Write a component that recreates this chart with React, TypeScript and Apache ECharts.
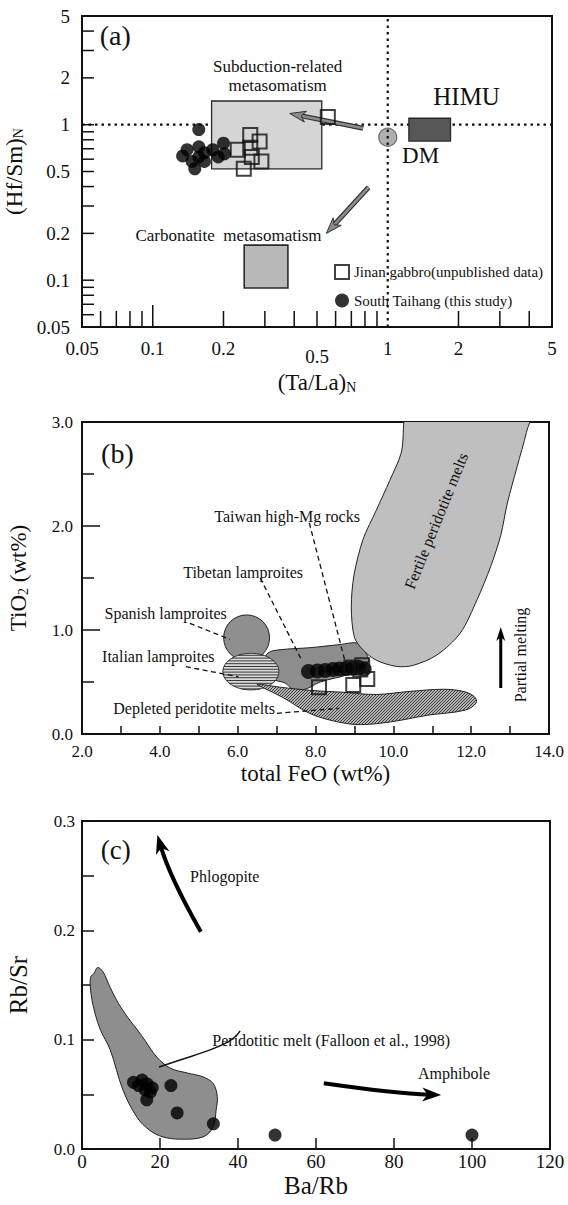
import React, { useEffect, useRef } from "react";
import * as echarts from "echarts";

const FONT = "'Liberation Serif', 'Times New Roman', Times, serif";
const INK = "#111";

// ---------------- Panel (a): (Ta/La)N vs (Hf/Sm)N, log–log ----------------
const A_AXIS_LABELS = [0.05, 0.1, 0.2, 0.5, 1, 2, 5];
const A_X_TICKS = [0.06, 0.07, 0.08, 0.09, 0.2, 0.3, 0.4, 0.5, 0.6, 0.7, 0.8, 0.9, 2, 3, 4];
const A_X_LONG_TICKS = [0.1];
const A_Y_TICKS = [4, 3, 2, 1, 0.9, 0.8, 0.7, 0.6, 0.5, 0.4, 0.3, 0.2, 0.1, 0.09, 0.08, 0.07, 0.06];

const TAIHANG_A: number[][] = [
  [0.157, 0.93], [0.134, 0.63], [0.157, 0.72], [0.157, 0.62], [0.151, 0.52],
  [0.166, 0.58], [0.18, 0.69], [0.2, 0.76], [0.202, 0.65], [0.166, 0.66],
  [0.14, 0.69], [0.147, 0.58], [0.19, 0.62],
];
const JINAN_A: number[][] = [
  [0.26, 0.86], [0.285, 0.78], [0.23, 0.69], [0.26, 0.71], [0.264, 0.62],
  [0.29, 0.58], [0.244, 0.52], [0.556, 1.12],
];
const SUBDUCTION_TA = [0.178, 0.524];
const SUBDUCTION_HF = [0.52, 1.42];
const CARBONATITE_TA = [0.245, 0.376];
const CARBONATITE_HF = [0.089, 0.168];
const HIMU_TA = [1.23, 1.85];
const HIMU_HF = [0.785, 1.1];
const DM_POINT = [[1.0, 0.83]];
const CHONDRITE_RATIO = 1;
const SUBDUCTION_ARROW = [[0.786, 0.948], [0.383, 1.18]];
const CARBONATITE_ARROW = [[0.829, 0.396], [0.548, 0.2]];
const NOTES_A = [
  { text: "(a)", at: [0.0693, 3.77] },
  { text: "Subduction-related", at: [0.34, 2.36] },
  { text: "metasomatism", at: [0.34, 1.774] },
  { text: "HIMU", at: [2.165, 1.51] },
  { text: "DM", at: [1.38, 0.638] },
  { text: "Carbonatite  metasomatism", at: [0.21, 0.195] },
];

// ---------------- Panel (b): total FeO vs TiO2 ----------------
// the fertile field runs past the top of the frame and is clipped there
const FERTILE: number[][] = [
  [10.5, 3.25], [10.2, 2.7], [9.91, 2.44], [9.56, 2.15], [9.22, 1.87], [8.99, 1.53], [8.92, 1.22],
  [9.0, 0.93], [9.22, 0.81], [9.56, 0.71], [10.08, 0.65], [10.51, 0.66], [11.12, 0.76],
  [11.72, 0.97], [12.15, 1.29], [12.5, 1.61], [12.76, 1.91], [12.93, 2.22], [13.18, 2.57],
  [13.42, 2.9], [13.6, 3.25],
];
const TIBETAN: number[][] = [
  [6.78, 0.78], [7.09, 0.81], [7.86, 0.83], [8.63, 0.86], [9.07, 0.875], [9.25, 0.81],
  [9.35, 0.69], [8.89, 0.58], [8.12, 0.5], [7.73, 0.43], [7.42, 0.43], [7.22, 0.49],
  [6.96, 0.52], [6.73, 0.6], [6.68, 0.69],
];
const DEPLETED: number[][] = [
  [6.5, 0.48], [7.09, 0.45], [7.86, 0.42], [8.76, 0.4], [9.56, 0.38], [10.43, 0.41],
  [11.28, 0.43], [11.79, 0.41], [12.08, 0.36], [12.13, 0.3], [11.85, 0.23], [10.87, 0.18],
  [9.99, 0.12], [9.15, 0.09], [8.53, 0.12], [7.84, 0.2], [7.17, 0.35], [6.63, 0.45],
];
const SPANISH_CENTER = [6.23, 0.925];
const SPANISH_RADII = [0.59, 0.22];
const ITALIAN_CENTER = [6.34, 0.6];
const ITALIAN_RADII = [0.72, 0.176];
const TAIHANG_B: number[][] = [
  [7.82, 0.6], [8.05, 0.605], [8.25, 0.61], [8.45, 0.62], [8.62, 0.625],
  [8.8, 0.63], [8.97, 0.635], [9.12, 0.64], [9.25, 0.625],
];
const JINAN_B: number[][] = [
  [8.09, 0.45], [8.97, 0.47], [9.33, 0.53], [9.15, 0.62], [8.92, 0.64], [9.2, 0.66],
];
const LEADERS_B: number[][][] = [
  [[7.84, 2.03], [8.79, 0.654]],
  [[6.58, 1.5], [7.62, 0.728]],
  [[4.77, 1.064], [5.8, 0.91]],
  [[4.67, 0.647], [6.02, 0.55]],
  [[7.01, 0.199], [8.61, 0.247]],
];
const PARTIAL_MELTING_ARROW = [[12.76, 0.442], [12.76, 1.03]];
const NOTES_B = [
  { text: "(b)", at: [2.91, 2.7] },
  { text: "Taiwan high-Mg rocks", at: [7.27, 2.09] },
  { text: "Tibetan lamproites", at: [6.14, 1.555] },
  { text: "Spanish lamproites", at: [4.15, 1.154] },
  { text: "Italian lamproites", at: [3.96, 0.743] },
  { text: "Depleted peridotite melts", at: [4.88, 0.247] },
  { text: "Fertile peridotite melts", at: [11.1, 2.05] },
  { text: "Partial melting", at: [13.28, 0.76] },
];

// ---------------- Panel (c): Ba/Rb vs Rb/Sr ----------------
const PERIDOTITIC: number[][] = [
  [3.0, 0.16], [4.0, 0.166], [5.4, 0.162], [7.2, 0.148], [9.2, 0.134], [11.8, 0.12],
  [14.4, 0.108], [16.2, 0.099], [19.2, 0.084], [22.6, 0.074], [27.0, 0.0695], [31.0, 0.066],
  [33.6, 0.06], [34.7, 0.048], [34.4, 0.036], [33.6, 0.02], [31.0, 0.011], [25.2, 0.009],
  [20.8, 0.011], [17.4, 0.017], [14.1, 0.029], [10.5, 0.054], [7.2, 0.091], [4.6, 0.11],
  [2.8, 0.132], [2.1, 0.15], [2.3, 0.158],
];
const TAIHANG_C: number[][] = [
  [13.2, 0.061], [15.4, 0.063], [16.7, 0.0595], [18.0, 0.056], [16.2, 0.054],
  [16.6, 0.045], [22.8, 0.058], [24.4, 0.033], [33.7, 0.023], [49.5, 0.0128],
  [100.0, 0.0128], [14.5, 0.058], [17.5, 0.052],
];
const PHLOGOPITE_ARROW = [[30.47, 0.1988], [22.5, 0.2486], [19.33, 0.2873]];
const AMPHIBOLE_ARROW = [[62.0, 0.0601], [80.3, 0.0507], [92.1, 0.0494]];
const PERIDOTITIC_LEADER: number[][] = [
  [19.76, 0.075], [25.15, 0.0814], [32.85, 0.0906], [37.47, 0.0979], [39.5, 0.1034], [40.55, 0.108],
];
const NOTES_C = [
  { text: "(c)", at: [8.65, 0.2736] },
  { text: "Phlogopite", at: [36.6, 0.249] },
  { text: "Peridotitic melt (Falloon et al., 1998)", at: [63.9, 0.099] },
  { text: "Amphibole", at: [95.4, 0.0686] },
];

// ---------------- styling helpers ----------------
const NOTE_SIZE: Record<string, number> = {
  "(a)": 28, "(b)": 28, "(c)": 27, HIMU: 25, DM: 23,
  "Subduction-related": 17, metasomatism: 17, "Carbonatite  metasomatism": 17,
};
const NOTE_ROTATION: Record<string, number> = {
  "Fertile peridotite melts": 68,
  "Partial melting": 90,
};
const JINAN = "Jinan gabbro(unpublished data)";
const TAIHANG = "South Taihang (this study)";

function arrowHead(tip: number[], from: number[], len: number, width: number) {
  const dx = tip[0] - from[0];
  const dy = tip[1] - from[1];
  const d = Math.hypot(dx, dy) || 1;
  const ux = dx / d, uy = dy / d;
  const nx = -uy, ny = ux;
  const bx = tip[0] - ux * len, by = tip[1] - uy * len;
  const notch = [tip[0] - ux * len * 0.72, tip[1] - uy * len * 0.72];
  return {
    points: [
      tip,
      [bx + (nx * width) / 2, by + (ny * width) / 2],
      notch,
      [bx - (nx * width) / 2, by - (ny * width) / 2],
    ],
    base: [tip[0] - ux * len * 0.6, tip[1] - uy * len * 0.6],
  };
}

function notesSeries(idx: number, notes: { text: string; at: number[] }[], z: number) {
  return {
    type: "custom",
    coordinateSystem: "cartesian2d",
    xAxisIndex: idx,
    yAxisIndex: idx,
    z,
    silent: true,
    data: notes.map((n) => n.at),
    renderItem: (params: any, api: any) => {
      const n = notes[params.dataIndex];
      const p = api.coord(n.at);
      return {
        type: "text",
        x: p[0],
        y: p[1],
        rotation: ((NOTE_ROTATION[n.text] || 0) * Math.PI) / 180,
        style: {
          text: n.text,
          fontSize: NOTE_SIZE[n.text] || 16,
          fontFamily: FONT,
          fill: INK,
          align: "center",
          verticalAlign: "middle",
        },
      };
    },
  };
}

function regionSeries(idx: number, pts: number[][], style: any, smooth: number, z: number) {
  return {
    type: "custom",
    coordinateSystem: "cartesian2d",
    xAxisIndex: idx,
    yAxisIndex: idx,
    z,
    silent: true,
    clip: true,
    data: [pts[0]],
    renderItem: (_p: any, api: any) => ({
      type: "polygon",
      shape: { points: pts.map((q) => api.coord(q)), smooth },
      style,
    }),
  };
}

function makeStipple() {
  const c = document.createElement("canvas");
  c.width = 3;
  c.height = 3;
  const g = c.getContext("2d");
  if (g) {
    g.fillStyle = "#b4b4b4";
    g.fillRect(0, 0, 3, 3);
    g.fillStyle = "#3c3c3c";
    g.fillRect(0, 2, 1, 1);
    g.fillRect(1, 1, 1, 1);
    g.fillRect(2, 0, 1, 1);
  }
  return c;
}

function labelNum(v: number) {
  return String(+Number(v).toPrecision(3));
}

function buildOption() {
  const tickStyle = { color: INK, width: 1.5 };
  const labelBase = { fontFamily: FONT, color: INK };

  const gridBase = {
    show: true,
    borderColor: INK,
    borderWidth: 2,
    backgroundColor: "transparent",
    containLabel: false,
    outerBoundsMode: "none",
  };

  const aTickItems = [
    ...A_X_TICKS.map((v) => [v, 0.05, 0, 16]),
    ...A_X_LONG_TICKS.map((v) => [v, 0.05, 0, 22]),
    ...A_Y_TICKS.map((v) => [0.05, v, 1, 12]),
  ];

  const boxesA = [
    { ta: SUBDUCTION_TA, hf: SUBDUCTION_HF, fill: "#d5d5d5", lw: 1.3 },
    { ta: CARBONATITE_TA, hf: CARBONATITE_HF, fill: "#b9b9b9", lw: 1.6 },
    { ta: HIMU_TA, hf: HIMU_HF, fill: "#575757", lw: 1.3 },
  ];

  const titleRich = {
    t: { fontFamily: FONT, fontSize: 23, color: INK, verticalAlign: "bottom" },
    s: { fontFamily: FONT, fontSize: 14, color: INK, verticalAlign: "bottom" },
  };

  return {
    animation: false,
    backgroundColor: "#fff",
    textStyle: { fontFamily: FONT },
    legend: {
      show: true,
      left: 329,
      top: 259,
      orient: "vertical",
      itemWidth: 14,
      itemHeight: 14,
      itemGap: 13,
      selectedMode: false,
      textStyle: { fontFamily: FONT, fontSize: 15, color: INK },
      data: [
        { name: JINAN, icon: "rect", itemStyle: { color: "#fff", borderColor: INK, borderWidth: 2 } },
        { name: TAIHANG, icon: "circle", itemStyle: { color: "#000", borderWidth: 0 } },
      ],
    },
    grid: [
      { ...gridBase, left: 82, top: 16, width: 470, height: 311 },
      { ...gridBase, left: 82, top: 422, width: 467, height: 312 },
      { ...gridBase, left: 82, top: 821, width: 468, height: 328 },
    ],
    xAxis: [
      {
        type: "log",
        logBase: 10,
        gridIndex: 0,
        min: 0.05,
        max: 5,
        axisLine: { show: false },
        axisTick: { show: false },
        splitLine: { show: false },
        minorTick: { show: false },
        axisLabel: {
          customValues: A_AXIS_LABELS,
          margin: 12,
          formatter: (v: number) => (labelNum(v) === "0.5" ? "{low|0.5}" : "{n|" + labelNum(v) + "}"),
          rich: {
            n: { ...labelBase, fontSize: 19 },
            low: { ...labelBase, fontSize: 19, padding: [8, 0, 0, 0] },
          },
        },
        name: "{t|(Ta/La)}{s|N}",
        nameLocation: "middle",
        nameGap: 44,
        nameTextStyle: { rich: titleRich },
      },
      {
        type: "value",
        gridIndex: 1,
        min: 2,
        max: 14,
        interval: 2,
        axisLine: { show: false },
        splitLine: { show: false },
        axisTick: { show: true, inside: true, length: 8, lineStyle: tickStyle },
        minorTick: { show: true, splitNumber: 2, length: 8, lineStyle: tickStyle },
        axisLabel: { ...labelBase, fontSize: 17, margin: 9, formatter: (v: number) => v.toFixed(1) },
        name: "total FeO (wt%)",
        nameLocation: "middle",
        nameGap: 28,
        nameTextStyle: { fontFamily: FONT, fontSize: 23, color: INK },
      },
      {
        type: "value",
        gridIndex: 2,
        min: 0,
        max: 120,
        interval: 20,
        axisLine: { show: false },
        splitLine: { show: false },
        axisTick: { show: true, inside: true, length: 11, lineStyle: tickStyle },
        axisLabel: { ...labelBase, fontSize: 19, margin: 3 },
        name: "Ba/Rb",
        nameLocation: "middle",
        nameGap: 24,
        nameTextStyle: { fontFamily: FONT, fontSize: 25, color: INK },
      },
    ],
    yAxis: [
      {
        type: "log",
        logBase: 10,
        gridIndex: 0,
        min: 0.05,
        max: 5,
        axisLine: { show: false },
        axisTick: { show: false },
        splitLine: { show: false },
        minorTick: { show: false },
        axisLabel: {
          ...labelBase,
          fontSize: 19,
          margin: 12,
          customValues: A_AXIS_LABELS,
          formatter: (v: number) => labelNum(v),
        },
        name: "{t|(Hf/Sm)}{s|N}",
        nameLocation: "middle",
        nameGap: 50,
        nameTextStyle: { rich: titleRich },
      },
      {
        type: "value",
        gridIndex: 1,
        min: 0,
        max: 3,
        interval: 1,
        axisLine: { show: false },
        splitLine: { show: false },
        axisTick: { show: true, inside: true, length: 18, lineStyle: tickStyle },
        minorTick: { show: true, splitNumber: 2, length: 12, lineStyle: tickStyle },
        axisLabel: { ...labelBase, fontSize: 17, margin: 9, formatter: (v: number) => v.toFixed(1) },
        name: "{t|TiO}{s|2}{t| (wt%)}",
        nameLocation: "middle",
        nameGap: 52,
        nameTextStyle: { rich: titleRich },
      },
      {
        type: "value",
        gridIndex: 2,
        min: 0,
        max: 0.3,
        interval: 0.1,
        axisLine: { show: false },
        splitLine: { show: false },
        axisTick: { show: true, inside: true, length: 12, lineStyle: tickStyle },
        minorTick: { show: true, splitNumber: 2, length: 12, lineStyle: tickStyle },
        axisLabel: { ...labelBase, fontSize: 17, margin: 7, formatter: (v: number) => v.toFixed(1) },
        name: "Rb/Sr",
        nameLocation: "middle",
        nameGap: 51,
        nameTextStyle: { fontFamily: FONT, fontSize: 25, color: INK },
      },
    ],
    series: [
      // ----- panel (a) -----
      {
        type: "custom",
        name: "ticks-a",
        coordinateSystem: "cartesian2d",
        xAxisIndex: 0,
        yAxisIndex: 0,
        z: 6,
        silent: true,
        encode: { x: 0, y: 1 },
        data: aTickItems,
        renderItem: (_p: any, api: any) => {
          const p = api.coord([api.value(0), api.value(1)]);
          const len = api.value(3);
          const vertical = api.value(2) === 0;
          return {
            type: "line",
            shape: vertical
              ? { x1: p[0], y1: p[1], x2: p[0], y2: p[1] - len }
              : { x1: p[0], y1: p[1], x2: p[0] + len, y2: p[1] },
            style: { stroke: INK, lineWidth: 1.5 },
          };
        },
      },
      {
        type: "scatter",
        name: "DM",
        xAxisIndex: 0,
        yAxisIndex: 0,
        z: 0,
        silent: true,
        data: DM_POINT,
        symbol: "circle",
        symbolSize: 18,
        itemStyle: { color: "#9b9b9b", borderColor: "#555", borderWidth: 1.2 },
      },
      {
        type: "line",
        name: "ref-x",
        xAxisIndex: 0,
        yAxisIndex: 0,
        z: 1,
        silent: true,
        symbol: "none",
        data: [[CHONDRITE_RATIO, 0.05], [CHONDRITE_RATIO, 5]],
        lineStyle: { color: INK, width: 2.2, type: [2.5, 4] },
      },
      {
        type: "line",
        name: "ref-y",
        xAxisIndex: 0,
        yAxisIndex: 0,
        z: 1,
        silent: true,
        symbol: "none",
        data: [[0.05, CHONDRITE_RATIO], [5, CHONDRITE_RATIO]],
        lineStyle: { color: INK, width: 2.2, type: [2.5, 4] },
      },
      {
        type: "custom",
        name: "boxes-a",
        coordinateSystem: "cartesian2d",
        xAxisIndex: 0,
        yAxisIndex: 0,
        z: 2,
        silent: true,
        data: boxesA.map((b) => [b.ta[0], b.hf[0]]),
        renderItem: (params: any, api: any) => {
          const b = boxesA[params.dataIndex];
          const p0 = api.coord([b.ta[0], b.hf[1]]);
          const p1 = api.coord([b.ta[1], b.hf[0]]);
          return {
            type: "rect",
            shape: { x: p0[0], y: p0[1], width: p1[0] - p0[0], height: p1[1] - p0[1] },
            style: { fill: b.fill, stroke: "#2a2a2a", lineWidth: b.lw },
          };
        },
      },
      {
        type: "custom",
        name: "arrows-a",
        coordinateSystem: "cartesian2d",
        xAxisIndex: 0,
        yAxisIndex: 0,
        z: 3,
        silent: true,
        data: [SUBDUCTION_ARROW[0], CARBONATITE_ARROW[0]],
        renderItem: (params: any, api: any) => {
          const arr = params.dataIndex === 0 ? SUBDUCTION_ARROW : CARBONATITE_ARROW;
          const a = api.coord(arr[0]);
          const b = api.coord(arr[1]);
          const head = arrowHead(b, a, 16, 11);
          return {
            type: "group",
            children: [
              { type: "line", shape: { x1: a[0], y1: a[1], x2: head.base[0], y2: head.base[1] }, style: { stroke: "#333", lineWidth: 5 } },
              { type: "line", shape: { x1: a[0], y1: a[1], x2: head.base[0], y2: head.base[1] }, style: { stroke: "#8c8c8c", lineWidth: 2.6 } },
              { type: "polygon", shape: { points: head.points }, style: { fill: "#8c8c8c", stroke: "#333", lineWidth: 1 } },
            ],
          };
        },
      },
      {
        type: "scatter",
        name: JINAN,
        xAxisIndex: 0,
        yAxisIndex: 0,
        z: 4,
        silent: true,
        data: JINAN_A,
        symbol: "rect",
        symbolSize: 14,
        itemStyle: { color: "transparent", borderColor: INK, borderWidth: 2 },
      },
      {
        type: "scatter",
        name: TAIHANG,
        xAxisIndex: 0,
        yAxisIndex: 0,
        z: 5,
        silent: true,
        data: TAIHANG_A,
        symbol: "circle",
        symbolSize: 13,
        itemStyle: { color: "#000" },
      },
      notesSeries(0, NOTES_A, 7),

      // ----- panel (b) -----
      regionSeries(1, TIBETAN, { fill: "#8d8d8d", stroke: "#222", lineWidth: 1 }, 0.35, 1),
      regionSeries(1, FERTILE, { fill: "#bfbfbf", stroke: "#222", lineWidth: 1 }, 0.3, 2),
      {
        type: "custom",
        name: "lamproite-ellipses",
        coordinateSystem: "cartesian2d",
        xAxisIndex: 1,
        yAxisIndex: 1,
        z: 3,
        silent: true,
        data: [SPANISH_CENTER, ITALIAN_CENTER],
        renderItem: (params: any, api: any) => {
          if (params.dataIndex === 0) {
            const c = api.coord(SPANISH_CENTER);
            const s = api.size([SPANISH_RADII[0], SPANISH_RADII[1]]);
            return {
              type: "ellipse",
              shape: { cx: c[0], cy: c[1], rx: s[0], ry: s[1] },
              style: { fill: "#8f8f8f", stroke: "#222", lineWidth: 1 },
            };
          }
          const c = api.coord(ITALIAN_CENTER);
          const s = api.size([ITALIAN_RADII[0], ITALIAN_RADII[1]]);
          const rx = s[0], ry = s[1];
          const kids: any[] = [
            { type: "ellipse", shape: { cx: c[0], cy: c[1], rx, ry }, style: { fill: "#dadada", stroke: "#333", lineWidth: 1 } },
          ];
          for (let dy = -ry + 2; dy < ry - 1; dy += 2.8) {
            const hw = rx * Math.sqrt(Math.max(0, 1 - (dy / ry) * (dy / ry)));
            kids.push({
              type: "line",
              shape: { x1: c[0] - hw, y1: c[1] + dy, x2: c[0] + hw, y2: c[1] + dy },
              style: { stroke: "#222", lineWidth: 0.9 },
            });
          }
          return { type: "group", children: kids };
        },
      },
      regionSeries(
        1,
        DEPLETED,
        { fill: { image: makeStipple(), repeat: "repeat", imageWidth: 3, imageHeight: 3 }, stroke: "#222", lineWidth: 1 },
        0.35,
        5
      ),
      {
        type: "custom",
        name: "leaders-b",
        coordinateSystem: "cartesian2d",
        xAxisIndex: 1,
        yAxisIndex: 1,
        z: 6,
        silent: true,
        data: LEADERS_B.map((l) => l[0]),
        renderItem: (params: any, api: any) => {
          const l = LEADERS_B[params.dataIndex];
          const a = api.coord(l[0]);
          const b = api.coord(l[1]);
          return {
            type: "line",
            shape: { x1: a[0], y1: a[1], x2: b[0], y2: b[1] },
            style: { stroke: INK, lineWidth: 1.3, lineDash: [5, 3.5] },
          };
        },
      },
      {
        type: "scatter",
        name: TAIHANG,
        xAxisIndex: 1,
        yAxisIndex: 1,
        z: 7,
        silent: true,
        data: TAIHANG_B,
        symbol: "circle",
        symbolSize: 15,
        itemStyle: { color: "#000" },
      },
      {
        type: "scatter",
        name: JINAN,
        xAxisIndex: 1,
        yAxisIndex: 1,
        z: 8,
        silent: true,
        data: JINAN_B,
        symbol: "rect",
        symbolSize: 14,
        itemStyle: { color: "transparent", borderColor: INK, borderWidth: 2 },
      },
      {
        type: "custom",
        name: "melting-arrow",
        coordinateSystem: "cartesian2d",
        xAxisIndex: 1,
        yAxisIndex: 1,
        z: 9,
        silent: true,
        data: [PARTIAL_MELTING_ARROW[0]],
        renderItem: (_p: any, api: any) => {
          const a = api.coord(PARTIAL_MELTING_ARROW[0]);
          const b = api.coord(PARTIAL_MELTING_ARROW[1]);
          const head = arrowHead(b, a, 14, 9);
          return {
            type: "group",
            children: [
              { type: "line", shape: { x1: a[0], y1: a[1], x2: head.base[0], y2: head.base[1] }, style: { stroke: "#000", lineWidth: 3 } },
              { type: "polygon", shape: { points: head.points }, style: { fill: "#000" } },
            ],
          };
        },
      },
      notesSeries(1, NOTES_B, 10),

      // ----- panel (c) -----
      regionSeries(2, PERIDOTITIC, { fill: "#8e8e8e", stroke: "#222", lineWidth: 1 }, 0.35, 1),
      {
        type: "custom",
        name: "leader-c",
        coordinateSystem: "cartesian2d",
        xAxisIndex: 2,
        yAxisIndex: 2,
        z: 2,
        silent: true,
        data: [PERIDOTITIC_LEADER[0]],
        renderItem: (_p: any, api: any) => ({
          type: "polyline",
          shape: { points: PERIDOTITIC_LEADER.map((q) => api.coord(q)), smooth: 0.4 },
          style: { stroke: INK, lineWidth: 1.4, fill: "none" },
        }),
      },
      {
        type: "scatter",
        name: TAIHANG,
        xAxisIndex: 2,
        yAxisIndex: 2,
        z: 3,
        silent: true,
        data: TAIHANG_C,
        symbol: "circle",
        symbolSize: 13,
        itemStyle: { color: "#000" },
      },
      {
        type: "custom",
        name: "mineral-arrows",
        coordinateSystem: "cartesian2d",
        xAxisIndex: 2,
        yAxisIndex: 2,
        z: 4,
        silent: true,
        data: [PHLOGOPITE_ARROW[0], AMPHIBOLE_ARROW[0]],
        renderItem: (params: any, api: any) => {
          const arr = params.dataIndex === 0 ? PHLOGOPITE_ARROW : AMPHIBOLE_ARROW;
          const a = api.coord(arr[0]);
          const c = api.coord(arr[1]);
          const b = api.coord(arr[2]);
          const head = arrowHead(b, c, 19, 14);
          return {
            type: "group",
            children: [
              {
                type: "bezierCurve",
                shape: { x1: a[0], y1: a[1], cpx1: c[0], cpy1: c[1], x2: head.base[0], y2: head.base[1] },
                style: { stroke: "#000", lineWidth: 4, fill: "none" },
              },
              { type: "polygon", shape: { points: head.points }, style: { fill: "#000" } },
            ],
          };
        },
      },
      notesSeries(2, NOTES_C, 5),
    ],
  };
}

export default function App() {
  const ref = useRef<HTMLDivElement>(null);
  useEffect(() => {
    if (!ref.current) return;
    const chart = echarts.init(ref.current, null, { renderer: "svg" });
    chart.setOption(buildOption() as any);
    return () => chart.dispose();
  }, []);
  return (
    <div
      ref={ref}
      style={{ position: "fixed", left: 0, top: 0, width: 568, height: 1205, background: "#fff" }}
    />
  );
}
